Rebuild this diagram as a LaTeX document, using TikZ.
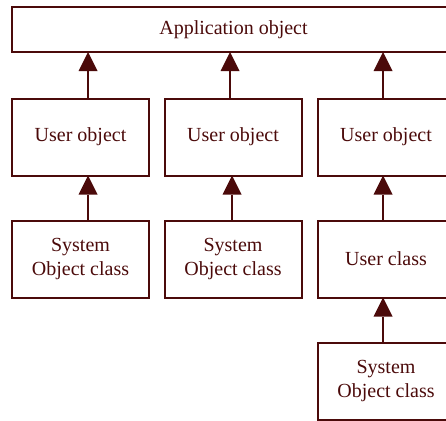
\documentclass[tikz,border=0pt]{standalone}
\usepackage{fontspec}
\setmainfont{Liberation Serif}
\usetikzlibrary{arrows.meta}
\definecolor{boxred}{HTML}{4B0A0A}

\tikzset{
  objbox/.style={draw=boxred, line width=2pt, text=boxred,
    minimum width=137pt, minimum height=77pt, align=center,
    inner sep=2pt, outer sep=0pt, font=\fontsize{20}{24}\selectfont},
  inherit/.style={draw=boxred, line width=2pt,
    -{Triangle[width=19pt,length=19pt,line width=0pt]}}
}

\begin{document}
\begin{tikzpicture}[x=1pt,y=-1pt]
    \useasboundingbox (0,0) rectangle (446,420);
    \node[objbox, minimum width=443pt, minimum height=45pt] (App) at (233.5,29.5) {Application object};
    \node[objbox] (U1) at (80.5,137) {User object};
    \node[objbox] (U2) at (233,137) {User object};
    \node[objbox] (U3) at (386,137) {User object};
    \node[objbox] (S1) at (80.5,259) {System\\Object class};
    \node[objbox] (S2) at (233,259) {System\\Object class};
    \node[objbox] (UC) at (386,259) {User class};
    \node[objbox] (S3) at (386,381) {System\\Object class};
    \draw[inherit] ([xshift=7.5pt]U1.north) -- ([xshift=7.5pt]U1.north |- App.south);
    \draw[inherit] ([xshift=-3pt]U2.north) -- ([xshift=-3pt]U2.north |- App.south);
    \draw[inherit] ([xshift=-3pt]U3.north) -- ([xshift=-3pt]U3.north |- App.south);
    \draw[inherit] ([xshift=7.5pt]S1.north) -- ([xshift=7.5pt]U1.south);
    \draw[inherit] ([xshift=-1pt]S2.north) -- ([xshift=-1pt]U2.south);
    \draw[inherit] ([xshift=-3pt]UC.north) -- ([xshift=-3pt]U3.south);
    \draw[inherit] ([xshift=-3pt]S3.north) -- ([xshift=-3pt]UC.south);
\end{tikzpicture}
\end{document}
